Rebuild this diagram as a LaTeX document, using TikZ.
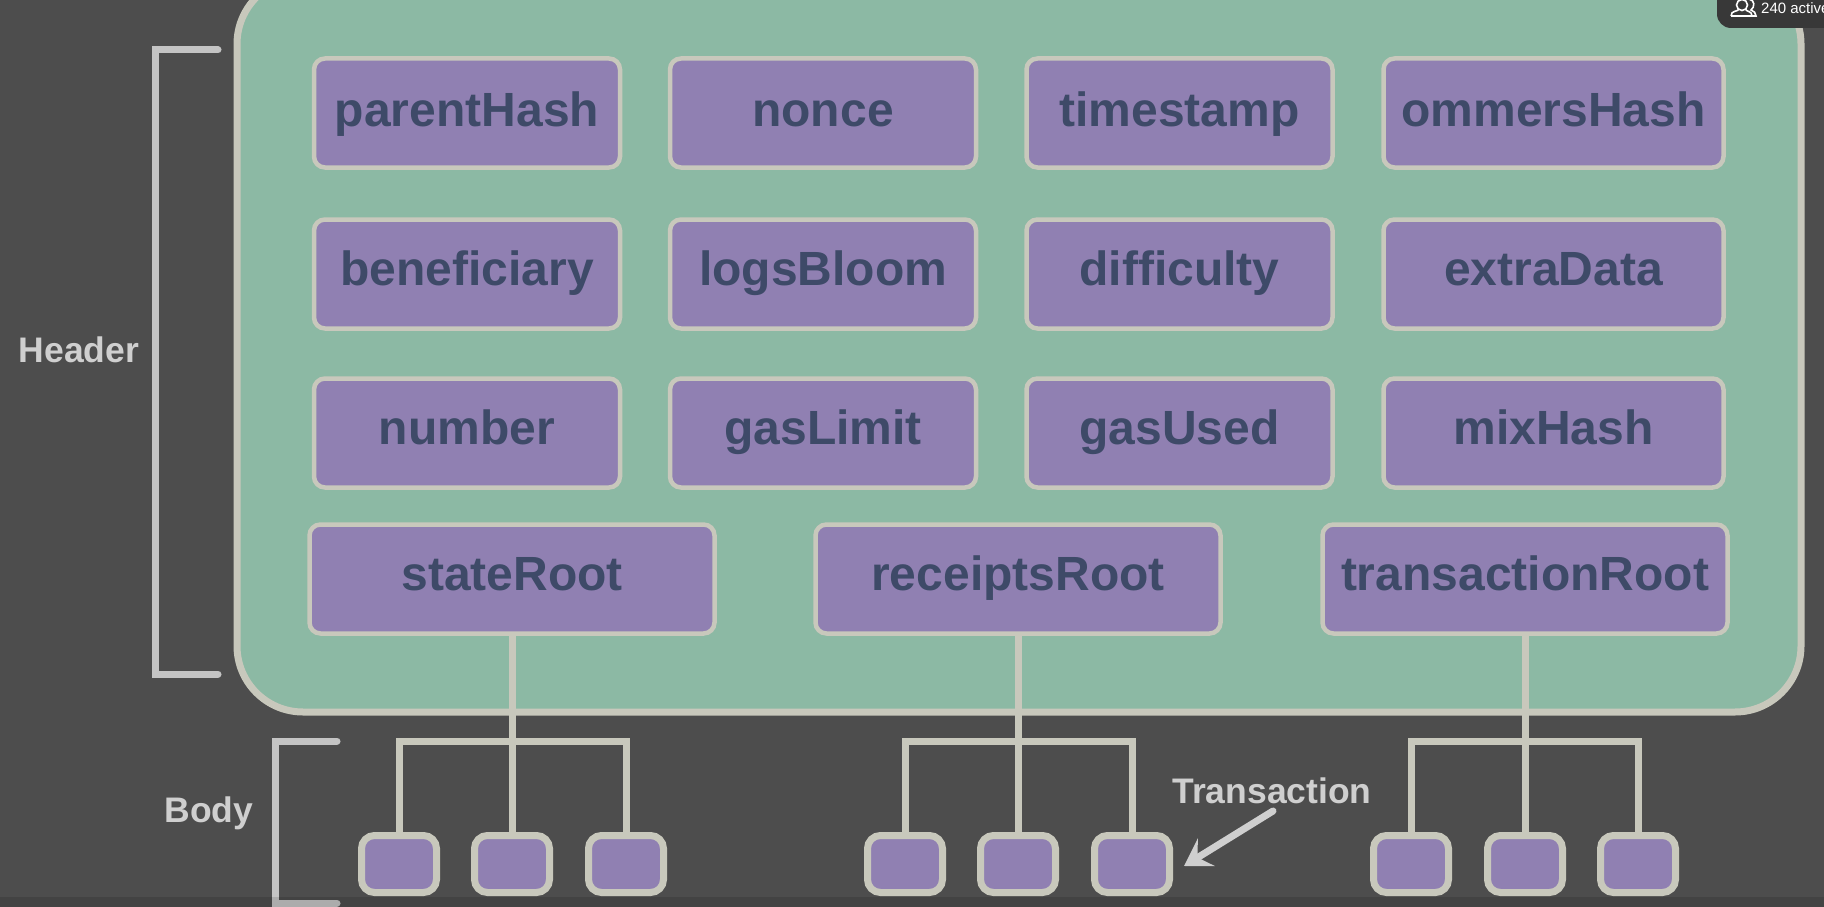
\documentclass[tikz,border=0pt]{standalone}
\usepackage{fontspec}
\setmainfont{Liberation Sans}
\usetikzlibrary{arrows.meta}
\definecolor{slidebg}{HTML}{4D4D4D}
\definecolor{headergreen}{HTML}{8CB9A4}
\definecolor{fieldpurple}{HTML}{9080B2}
\definecolor{edgegrey}{HTML}{C8C8BC}
\definecolor{fieldtext}{HTML}{3E4A68}
\definecolor{notegrey}{HTML}{CFCFCF}
\definecolor{bracketgrey}{HTML}{C4C4C4}
\definecolor{badgedark}{HTML}{383838}
\tikzset{
 field/.style={draw=edgegrey,fill=fieldpurple,line width=4.5pt,rounded corners=11pt,
  minimum height=109pt,inner sep=0pt,text=fieldtext,font=\fontsize{48}{48}\selectfont\bfseries,
  text height=34pt,text depth=12pt},
 topfield/.style={field,text depth=8pt},
 txbox/.style={draw=edgegrey,fill=fieldpurple,line width=7pt,rounded corners=13pt,
  minimum width=75pt,minimum height=57pt,inner sep=0pt},
 link/.style={draw=edgegrey,line width=7pt},
 bracket/.style={draw=bracketgrey,line width=7pt,line cap=round,line join=miter},
 note/.style={text=notegrey,inner sep=0pt,font=\fontsize{35.5}{36}\selectfont\bfseries}
}
\begin{document}
\begin{tikzpicture}[x=1pt,y=-1pt]
 \clip (0,0) rectangle (1824,907);
 \fill[slidebg] (0,0) rectangle (1824,907);
 \node[draw=edgegrey,fill=headergreen,line width=7pt,rounded corners=66pt,minimum width=1564pt,minimum height=734pt] (headerBox) at (1019,345) {};
 \node[topfield,minimum width=306pt] (parentHash) at (467,113) {parentHash};
 \node[topfield,minimum width=306pt] (nonce) at (823,113) {nonce};
 \node[topfield,minimum width=306pt] (timestamp) at (1179.5,113) {timestamp};
 \node[topfield,minimum width=340pt] (ommersHash) at (1553.5,113) {ommersHash};
 \node[field,minimum width=306pt] (beneficiary) at (467,274) {beneficiary};
 \node[field,minimum width=306pt] (logsBloom) at (823,274) {logsBloom};
 \node[field,minimum width=306pt] (difficulty) at (1179.5,274) {difficulty};
 \node[field,minimum width=340pt] (extraData) at (1553.5,274) {extraData};
 \node[field,minimum width=306pt] (number) at (467,433) {number};
 \node[field,minimum width=306pt] (gasLimit) at (823,433) {gasLimit};
 \node[field,minimum width=306pt] (gasUsed) at (1179.5,433) {gasUsed};
 \node[field,minimum width=340pt] (mixHash) at (1553.5,433) {mixHash};
 \node[field,minimum width=405pt] (stateRoot) at (512,579) {stateRoot};
 \node[field,minimum width=405pt] (receiptsRoot) at (1018,579) {receiptsRoot};
 \node[field,minimum width=405pt] (transactionRoot) at (1525,579) {transactionRoot};
 \node[txbox] (stateTxA) at (399,864) {};
 \node[txbox] (stateTxB) at (512,864) {};
 \node[txbox] (stateTxC) at (626,864) {};
 \node[txbox] (receiptsTxA) at (905,864) {};
 \node[txbox] (receiptsTxB) at (1018,864) {};
 \node[txbox] (receiptsTxC) at (1132,864) {};
 \node[txbox] (transactionTxA) at (1411,864) {};
 \node[txbox] (transactionTxB) at (1525,864) {};
 \node[txbox] (transactionTxC) at (1638,864) {};
 \coordinate (stateBar) at (512,741);
 \coordinate (receiptsBar) at (1018,741);
 \coordinate (transactionBar) at (1525,741);
 \draw[link] (stateRoot.south) -- (stateTxB.north);
 \draw[link] (stateTxA.north) |- (stateBar) -| (stateTxC.north);
 \draw[link] (receiptsRoot.south) -- (receiptsTxB.north);
 \draw[link] (receiptsTxA.north) |- (receiptsBar) -| (receiptsTxC.north);
 \draw[link] (transactionRoot.south) -- (transactionTxB.north);
 \draw[link] (transactionTxA.north) |- (transactionBar) -| (transactionTxC.north);
 \coordinate (headerTop) at (218,50);
 \coordinate (headerBottom) at (218,674);
 \coordinate (headerSpine) at (155,0);
 \draw[bracket] (headerTop) -- (headerTop -| headerSpine) -- (headerBottom -| headerSpine) -- (headerBottom);
 \coordinate (bodyTop) at (337,741);
 \coordinate (bodyBottom) at (337,903);
 \coordinate (bodySpine) at (275,0);
 \draw[bracket] (bodyTop) -- (bodyTop -| bodySpine) -- (bodyBottom -| bodySpine) -- (bodyBottom);
 \node[note] (headerLabel) at (79,350) {Header};
 \node[note] (bodyLabel) at (209,813) {Body};
 \node[note] (transactionLabel) at (1272,791) {Transaction};
 \coordinate (pointerStart) at (1273,811);
 \coordinate (pointerEnd) at (1184,866);
 \draw[draw=notegrey,line width=7pt,line cap=round,-{Stealth[length=26pt,width=32pt,inset=10pt]}] (pointerStart) -- (pointerEnd);
 \fill[badgedark,rounded corners=14pt] (1717,-30) rectangle (1860,28);
 \draw[white,line width=1.6pt] (1742,5) circle (5.5pt);
 \draw[white,line width=1.6pt] (1731,16) .. controls (1731,10) and (1738,12) .. (1739,9);
 \draw[white,line width=1.6pt] (1731,16) -- (1752,16) .. controls (1752,11) and (1747,12) .. (1745,9);
 \draw[white,line width=1.6pt] (1749,-1) .. controls (1755,0) and (1755,7) .. (1751,10) .. controls (1754,11) and (1756,13) .. (1756,16) -- (1752,16);
 \node[text=white,anchor=base west,inner sep=0pt,font=\fontsize{15}{15}\selectfont] (activeLabel) at (1761,14) {240 active};
 \fill[black,opacity=0.12] (0,897) rectangle (1824,907);
\end{tikzpicture}
\end{document}
